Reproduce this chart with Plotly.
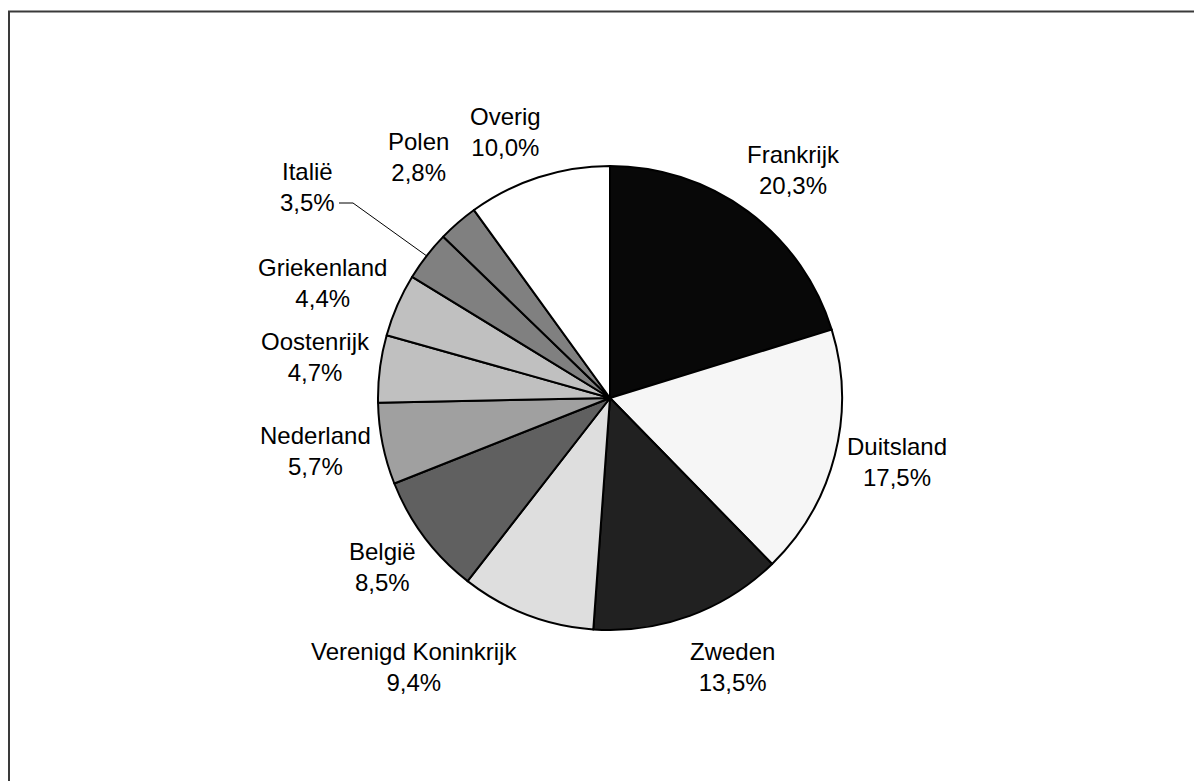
import math
import plotly.graph_objects as go

# page has an 8px body margin: figure occupies screen pixels 8..1202 / 8..781
OFF = 8
W, H = 1202 - OFF, 781 - OFF

countries = ["Frankrijk", "Duitsland", "Zweden", "Verenigd Koninkrijk", "België",
             "Nederland", "Oostenrijk", "Griekenland", "Italië", "Polen", "Overig"]
shares = [20.3, 17.5, 13.5, 9.4, 8.5, 5.7, 4.7, 4.4, 3.5, 2.8, 10.0]

colors = ["#080808", "#f6f6f6", "#212121", "#dedede", "#606060",
          "#a0a0a0", "#c0c0c0", "#c0c0c0", "#808080", "#808080", "#ffffff"]

# label centres in screen pixels (layout only)
label_px = [(793, 170), (897, 462), (732, 667), (414, 667), (382, 567),
            (315, 451), (315, 357), (322, 283), (307, 187), (418, 157), (505, 132)]

# pie geometry in screen pixels
CX, CY, R = 610, 398, 232

def px(x):
    return (x - OFF) / W

def py(y):
    return 1 - (y - OFF) / H

fig = go.Figure(go.Pie(
    labels=countries,
    values=shares,
    sort=False,
    direction="clockwise",
    rotation=0,
    marker=dict(colors=colors, line=dict(color="#000000", width=2)),
    textinfo="none",
    hoverinfo="label+percent",
    showlegend=False,
    domain=dict(x=[px(CX - R), px(CX + R)], y=[py(CY + R), py(CY - R)]),
))

annotations = []
for name, v, (lx, ly) in zip(countries, shares, label_px):
    annotations.append(dict(
        x=px(lx), y=py(ly), xref="paper", yref="paper",
        text=f"{name}<br>{v:.1f}".replace(".", ",") + "%",
        showarrow=False, xanchor="center", yanchor="middle",
        font=dict(family="Liberation Sans, Arial, sans-serif", size=24, color="#000000"),
    ))

# leader line for Italië computed from its slice mid-angle
total = sum(shares)
idx = countries.index("Italië")
mid = (sum(shares[:idx]) + shares[idx] / 2) / total * 2 * math.pi
ex, ey = CX + R * math.sin(mid), CY - R * math.cos(mid)
shapes = [
    dict(type="path", xref="paper", yref="paper",
         path=f"M {px(ex)} {py(ey)} L {px(353)} {py(203)} L {px(339)} {py(203)}",
         line=dict(color="#000000", width=1)),
    dict(type="rect", xref="paper", yref="paper",
         x0=px(9), y0=-0.05, x1=1.05, y1=py(11.5),
         line=dict(color="#3a3a3a", width=2), fillcolor="rgba(0,0,0,0)", layer="above"),
]

fig.update_layout(
    width=W, height=H,
    margin=dict(l=0, r=0, t=0, b=0),
    paper_bgcolor="#ffffff",
    plot_bgcolor="#ffffff",
    annotations=annotations,
    shapes=shapes,
    separators=", ",
)

fig.write_html("out.html")
